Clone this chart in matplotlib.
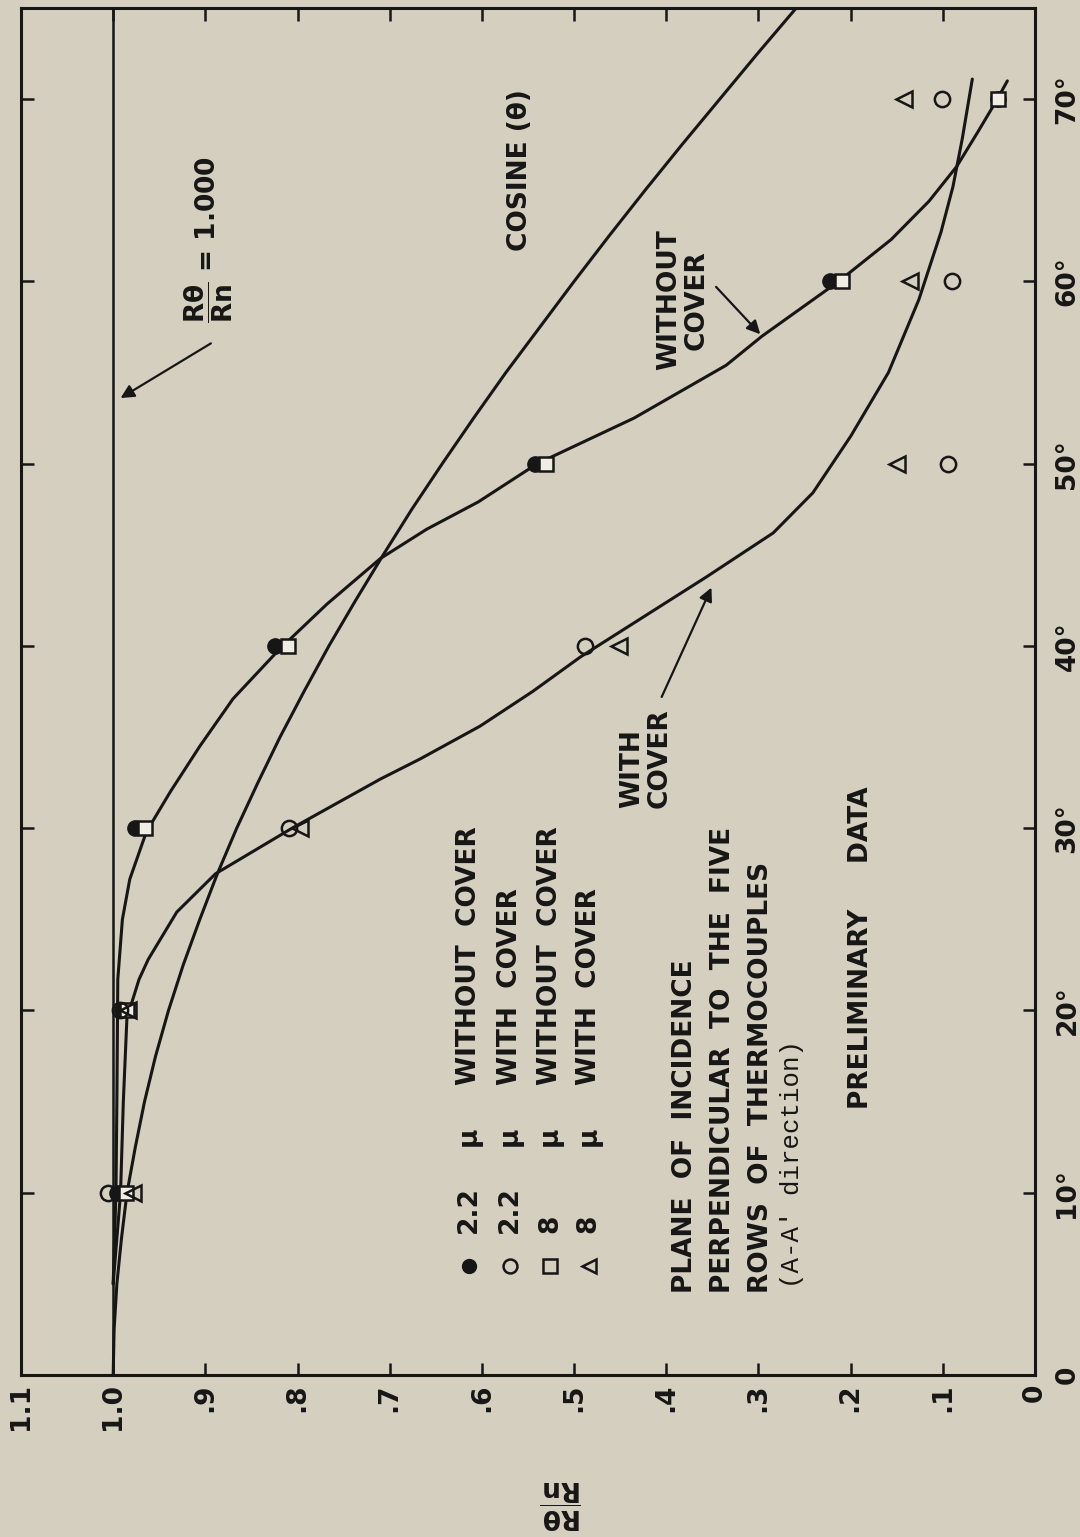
import matplotlib
matplotlib.use("Agg")
import matplotlib.pyplot as plt

plt.rcParams['font.family'] = ['DejaVu Sans']
plt.rcParams['mathtext.fontset'] = 'dejavusans'

# ---------------- data (angle of incidence in degrees, ratio R_theta/R_n) -------------
angles = [10, 20, 30, 40, 50, 60, 70]
r22_without = [0.996, 0.990, 0.976, 0.824, 0.542, 0.222, 0.040]   # filled circle
r22_with    = [1.006, 0.993, 0.809, 0.488, 0.094, 0.090, 0.101]   # open circle
r8_without  = [0.986, 0.985, 0.965, 0.810, 0.531, 0.209, 0.040]   # open square
r8_with     = [0.978, 0.984, 0.797, 0.451, 0.150, 0.136, 0.142]   # open triangle

# faired curves
cos_ang = [0, 2.5, 5, 7.5, 10, 12.5, 15, 17.5, 20, 22.5, 25, 27.5, 30, 32.5, 35,
           37.5, 40, 42.5, 45, 47.5, 50, 52.5, 55, 57.5, 60, 62.5, 65, 67.5, 70,
           72.5, 75]
cos_val = [1.000, 0.999, 0.996, 0.991, 0.985, 0.976, 0.966, 0.954, 0.940, 0.924,
           0.906, 0.887, 0.866, 0.843, 0.819, 0.793, 0.766, 0.737, 0.707, 0.676,
           0.643, 0.609, 0.574, 0.537, 0.500, 0.462, 0.423, 0.383, 0.342, 0.301,
           0.259]

wo_ang = [5, 10, 15, 21.7, 25.0, 27.2, 29.8, 32.0, 34.5, 37.1, 39.8, 42.3, 44.8,
          46.4, 47.9, 50.0, 52.5, 55.4, 57.0, 60.0, 62.3, 64.4, 66.3, 68.2, 69.9, 71.0]
wo_val = [1.000, 0.997, 0.996, 0.995, 0.990, 0.982, 0.964, 0.938, 0.906, 0.870,
          0.820, 0.768, 0.710, 0.660, 0.604, 0.540, 0.435, 0.335, 0.296, 0.213,
          0.156, 0.115, 0.085, 0.062, 0.042, 0.030]

wc_ang = [5, 10, 15, 19.7, 20.4, 21.7, 22.8, 25.4, 27.5, 30.0, 32.7, 33.8, 35.6,
          37.5, 39.4, 43.8, 46.2, 48.4, 51.5, 55.0, 59.0, 62.7, 65.2, 67.8, 71.1]
wc_val = [1.000, 0.992, 0.989, 0.985, 0.980, 0.972, 0.962, 0.931, 0.889, 0.806,
          0.710, 0.667, 0.602, 0.545, 0.493, 0.356, 0.284, 0.241, 0.200, 0.159,
          0.126, 0.102, 0.089, 0.079, 0.068]

ratio_ticks = [0, 0.1, 0.2, 0.3, 0.4, 0.5, 0.6, 0.7, 0.8, 0.9, 1.0, 1.1]
ratio_labels = ['0', '.1', '.2', '.3', '.4', '.5', '.6', '.7', '.8', '.9', '1.0', '1.1']
angle_ticks = [0, 10, 20, 30, 40, 50, 60, 70]
angle_labels = ['0', '10°', '20°', '30°', '40°', '50°', '60°', '70°']

legend_sizes = ['2.2', '2.2', '8', '8']
legend_words = ['WITHOUT  COVER', 'WITH  COVER', 'WITHOUT  COVER', 'WITH  COVER']

# ---------------- styling ----------------
BG = '#d5cfbf'
INK = '#161616'
FS = 19

fig = plt.figure(figsize=(10.8, 15.37), dpi=100, facecolor=BG)
ax = fig.add_axes([21/1080, 1 - 1375/1537, (1035-21)/1080, (1375-8)/1537])
ax.set_facecolor(BG)
ax.set_xlim(1.1, 0)
ax.set_ylim(0, 75)

for s in ax.spines.values():
    s.set_linewidth(2.2)
    s.set_color(INK)

# ticks
ax.set_xticks(ratio_ticks)
ax.set_xticklabels(ratio_labels)
ax.tick_params(axis='x', direction='in', length=9, width=1.8, top=True, bottom=True,
               labelrotation=90, labelsize=FS, pad=6, colors=INK)
ax.yaxis.tick_right()
ax.set_yticks(angle_ticks)
ax.set_yticklabels(angle_labels)
ax.tick_params(axis='y', direction='in', length=9, width=1.8, left=True, right=True,
               labelleft=False, labelright=True, labelrotation=90, labelsize=FS,
               pad=14, colors=INK)
for lab in ax.get_xticklabels() + ax.get_yticklabels():
    lab.set_fontweight('bold')
for lab in ax.get_yticklabels():
    lab.set_va('center')

# reference line R/Rn = 1.000
ax.axvline(1.0, color=INK, lw=1.8)

# curves
kw = dict(color=INK, lw=2.2, solid_joinstyle='round', solid_capstyle='round')
ax.plot(cos_val, cos_ang, **kw)
ax.plot(wo_val, wo_ang, **kw)
ax.plot(wc_val, wc_ang, **kw)

# data points
ms = 11
ax.plot(r22_without, angles, 'o', ms=ms, color=INK, ls='none', zorder=5)
ax.plot(r8_without, angles, 's', ms=ms - 1, mfc='#efede4', mec=INK, mew=1.8, ls='none', zorder=6)
ax.plot(r22_with, angles, 'o', ms=ms, mfc='none', mec=INK, mew=1.8, ls='none', zorder=6)
ax.plot(r8_with, angles, '<', ms=ms + 1, mfc='none', mec=INK, mew=1.8, ls='none', zorder=6)

# legend (drawn rotated, as in the figure)
leg_x = [0.614, 0.570, 0.526, 0.484]
leg_style = [dict(marker='o', color=INK),
             dict(marker='o', mfc='none', mec=INK, mew=1.8),
             dict(marker='s', mfc='none', mec=INK, mew=1.8),
             dict(marker='<', mfc='none', mec=INK, mew=1.8)]
for xr, st, sz, wd in zip(leg_x, leg_style, legend_sizes, legend_words):
    ax.plot([xr], [6.0], ls='none', ms=ms - 1, **st)
    ax.text(xr, 7.8, sz, rotation=90, ha='center', va='bottom', fontsize=FS, fontweight='bold', color=INK)
    ax.text(xr, 13.1, 'µ', rotation=90, ha='center', va='center', fontsize=FS, fontweight='bold', color=INK)
    ax.text(xr, 15.9, wd, rotation=90, ha='center', va='bottom', fontsize=FS, fontweight='bold', color=INK)

tk = dict(rotation=90, ha='center', va='bottom', fontsize=FS, fontweight='bold', color=INK)
ax.text(0.380, 4.5, 'PLANE  OF  INCIDENCE', **tk)
ax.text(0.338, 4.5, 'PERPENDICULAR  TO  THE  FIVE', **tk)
ax.text(0.297, 4.5, 'ROWS  OF  THERMOCOUPLES', **tk)
ax.text(0.264, 4.8, "(A-A' direction)", rotation=90, ha='center', va='bottom', fontsize=18.5,
        family='Liberation Mono', color=INK)
ax.text(0.189, 14.6, 'PRELIMINARY     DATA', **tk)

ax.text(0.559, 66.1, 'COSINE (θ)', rotation=90, ha='center', va='center', fontsize=FS,
        fontweight='bold', color=INK)
ax.text(0.382, 59.0, 'WITHOUT\nCOVER', rotation=90, ha='center', va='center', fontsize=FS,
        fontweight='bold', color=INK, multialignment='center', linespacing=1.1)
ax.text(0.422, 31.1, 'WITH\nCOVER', rotation=90, ha='center', va='bottom', fontsize=FS,
        fontweight='bold', color=INK, multialignment='left', linespacing=1.1)
ax.text(0.896, 62.3, r'$\dfrac{\mathbf{R\theta}}{\mathbf{Rn}}$ = 1.000', rotation=90,
        ha='center', va='center', fontsize=FS, fontweight='bold', color=INK)

arrow = dict(arrowstyle='-|>', color=INK, lw=1.6, mutation_scale=20, shrinkA=0, shrinkB=0)
ax.annotate('', xy=(0.992, 53.6), xytext=(0.894, 56.6), arrowprops=arrow)
ax.annotate('', xy=(0.298, 57.1), xytext=(0.346, 59.7), arrowprops=arrow)
ax.annotate('', xy=(0.351, 43.2), xytext=(0.405, 37.2), arrowprops=arrow)

# axis label for the ratio (upside down in the reproduced sheet)
fig.text(561/1080, 1 - 1504/1537, r'$\dfrac{\mathbf{R\theta}}{\mathbf{Rn}}$', rotation=180,
         ha='center', va='center', fontsize=19, color=INK)

fig.savefig('out.png', dpi=100, facecolor=BG)
